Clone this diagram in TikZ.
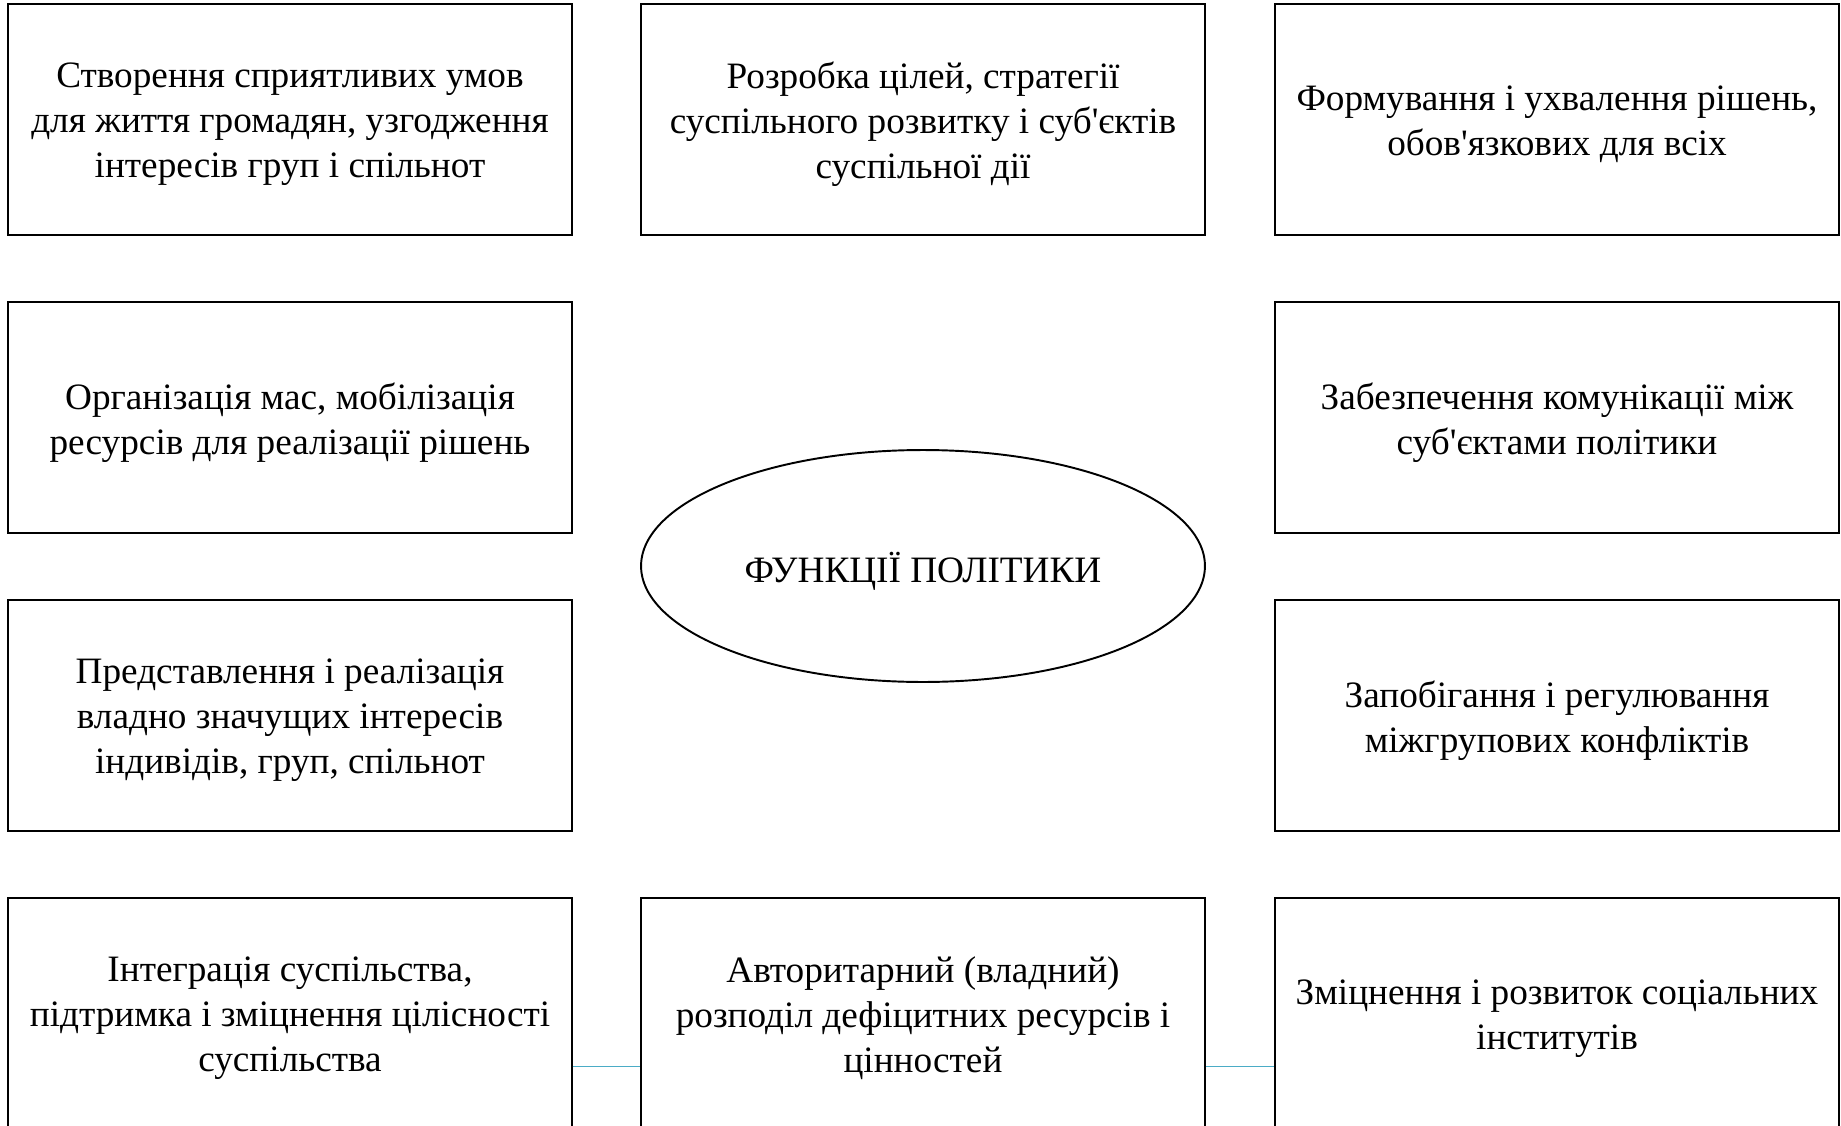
\documentclass[tikz,border=0pt]{standalone}
\usepackage{fontspec}
\setmainfont{Liberation Serif}
\newfontfamily\plainserif{Liberation Serif}
\usetikzlibrary{shapes.geometric}
\definecolor{connblue}{RGB}{75,172,198}
\newcommand{\ap}{{\plainserif'}}
\begin{document}
\begin{tikzpicture}[x=0.02cm,y=-0.02cm,
  fbox/.style={draw=black, line width=1.1pt, fill=white, minimum width=11.28cm, minimum height=4.63cm,
    inner sep=0pt},
  ftxt/.style={align=center, inner sep=0pt, yshift=-0.1cm, font=\fontsize{21.2}{25.6}\selectfont},
  fell/.style={draw=black, line width=1.1pt, ellipse, minimum width=11.28cm, minimum height=4.64cm,
    inner sep=0pt},
  conn/.style={draw=connblue, line width=1.1pt}]
\useasboundingbox (0,0) rectangle (1841,1125);
\clip (0,0) rectangle (1841,1125);
\node[fbox, label={[ftxt]center:{Створення сприятливих умов\\для життя громадян, узгодження\\інтересів груп і спільнот}}] (b11) at (290,119.5) {};
\node[fbox, label={[ftxt]center:{Розробка цілей, стратегії\\суспільного розвитку і суб\ap єктів\\суспільної дії}}] (b12) at (923,119.5) {};
\node[fbox, label={[ftxt]center:{Формування і ухвалення рішень,\\обов\ap язкових для всіх}}] (b13) at (1557,119.5) {};
\node[fbox, label={[ftxt]center:{Організація мас, мобілізація\\ресурсів для реалізації рішень}}] (b21) at (290,417.5) {};
\node[fbox, label={[ftxt]center:{Забезпечення комунікації між\\суб\ap єктами політики}}] (b23) at (1557,417.5) {};
\node[fbox, label={[ftxt]center:{Представлення і реалізація\\владно значущих інтересів\\індивідів, груп, спільнот}}] (b31) at (290,715.5) {};
\node[fbox, label={[ftxt]center:{Запобігання і регулювання\\міжгрупових конфліктів}}] (b33) at (1557,715.5) {};
\node[fbox, label={[ftxt]center:{Інтеграція суспільства,\\підтримка і зміцнення цілісності\\суспільства}}] (b41) at (290,1013.5) {};
\node[fbox, label={[ftxt]center:{Авторитарний (владний)\\розподіл дефіцитних ресурсів і\\цінностей}}] (b42) at (923,1013.5) {};
\node[fbox, label={[ftxt]center:{Зміцнення і розвиток соціальних\\інститутів}}] (b43) at (1557,1013.5) {};
\node[fell, label={[ftxt]center:{ФУНКЦІЇ ПОЛІТИКИ}}] (core) at (923,566) {};
\draw[conn] ([yshift=-1.06cm]b41.east) -- ([yshift=-1.06cm]b42.west);
\draw[conn] ([yshift=-1.06cm]b42.east) -- ([yshift=-1.06cm]b43.west);
\end{tikzpicture}
\end{document}
